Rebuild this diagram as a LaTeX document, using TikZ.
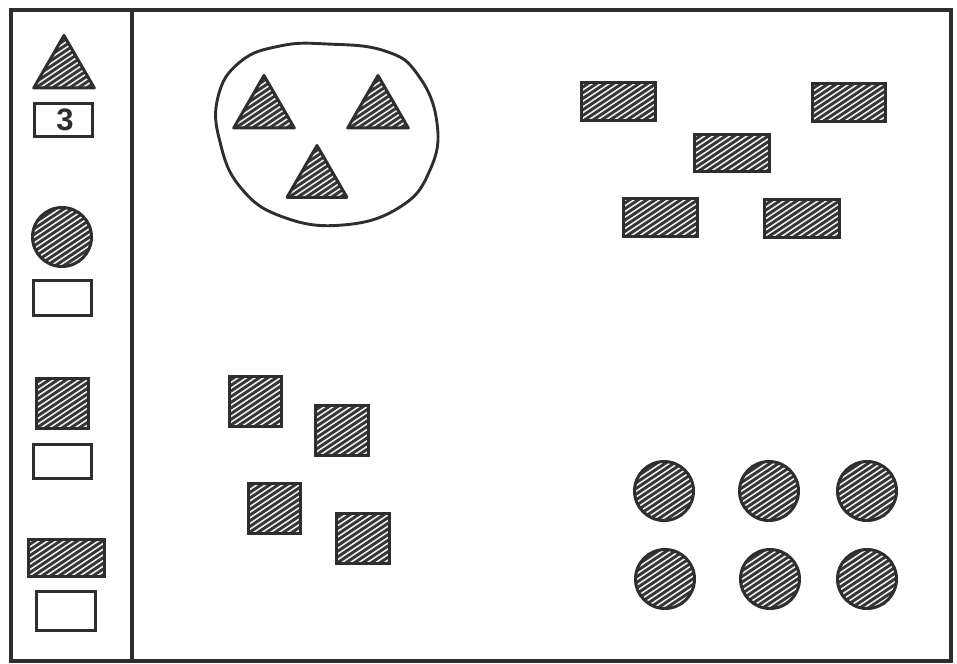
\documentclass[tikz,border=0pt]{standalone}
\usepackage{fontspec}
\setmainfont{Liberation Sans}
\usetikzlibrary{shapes.geometric}
\definecolor{ink}{HTML}{2E2E2E}
\definecolor{shade}{HTML}{353535}
\tikzset{
  hatch/.style={draw=ink, line width=3pt, fill=shade, inner sep=0pt, outer sep=0pt,
    path picture={
      \foreach \k in {-104,-95.5,...,104}{
        \draw[white!92!black, line width=1.6pt]
          ([xshift={\k*1pt-60pt}, yshift=-40pt]path picture bounding box.center) -- ++(120pt,80pt);
      }
    }},
  hbox/.style={hatch, rectangle},
  hdisc/.style={hatch, circle, minimum size=59pt},
  htri/.style={hatch, regular polygon, regular polygon sides=3, line join=round},
  answer/.style={draw=ink, line width=2.6pt, rectangle, inner sep=0pt, outer sep=0pt},
  frameline/.style={draw=ink, line width=4pt},
}
\begin{document}
\begin{tikzpicture}[x=1pt,y=-1pt]
\useasboundingbox (0,0) rectangle (957,663);
% frame
\draw[frameline] (11,10) rectangle (951,661);
\coordinate (divtop) at (132,10);
\coordinate (divbot) at (132,661);
\draw[frameline] (divtop) -- (divbot);

% left panel: key
\node[htri, minimum size=70pt] (ktri) at (64,70.5) {};
\node[answer, minimum width=58pt, minimum height=33pt] (ktrin) at (63.5,120) {};
\node[text=ink, inner sep=0pt] (three) at (65,120)
  {\fontsize{31}{31}\selectfont\bfseries 3};
\node[hdisc] (kdisc) at (62,237) {};
\node[answer, minimum width=58pt, minimum height=35pt] (kdiscn) at (62.5,298) {};
\node[hbox, minimum width=52pt, minimum height=50pt] (ksq) at (62.5,403.5) {};
\node[answer, minimum width=58pt, minimum height=34pt] (ksqn) at (62.5,461.5) {};
\node[hbox, minimum width=76pt, minimum height=37pt] (krect) at (66.5,558) {};
\node[answer, minimum width=59pt, minimum height=39pt] (krectn) at (66,611) {};

% group of triangles in a loop
\draw[draw=ink, line width=2.9pt] plot[smooth cycle, tension=0.75] coordinates {
  (327,44) (385,51) (418,75) (437,123) (430,170) (400,207) (343,225)
  (283,217) (241,188) (220,142) (218,97) (240,62) (280,46)};
\node[htri, minimum size=70pt] (t1) at (264,110.5) {};
\node[htri, minimum size=70pt] (t2) at (378,110.5) {};
\node[htri, minimum size=69pt] (t3) at (317,180) {};

% rectangles
\node[hbox, minimum width=74pt, minimum height=38pt] (r1) at (618.5,101.5) {};
\node[hbox, minimum width=73pt, minimum height=38pt] (r2) at (849,102.5) {};
\node[hbox, minimum width=75pt, minimum height=37pt] (r3) at (732,153) {};
\node[hbox, minimum width=74pt, minimum height=38pt] (r4) at (660.5,217.5) {};
\node[hbox, minimum width=75pt, minimum height=38pt] (r5) at (802,218.5) {};

% squares
\node[hbox, minimum width=52pt, minimum height=50pt] (s1) at (255.5,401.5) {};
\node[hbox, minimum width=53pt, minimum height=50pt] (s2) at (342,430.5) {};
\node[hbox, minimum width=52pt, minimum height=50pt] (s3) at (274.5,508.5) {};
\node[hbox, minimum width=53pt, minimum height=50pt] (s4) at (363,538.5) {};

% circles
\node[hdisc] (c1) at (664,491) {};
\node[hdisc] (c2) at (769,491) {};
\node[hdisc] (c3) at (867,491) {};
\node[hdisc] (c4) at (665,579) {};
\node[hdisc] (c5) at (770,579) {};
\node[hdisc] (c6) at (867,579) {};
\end{tikzpicture}
\end{document}
